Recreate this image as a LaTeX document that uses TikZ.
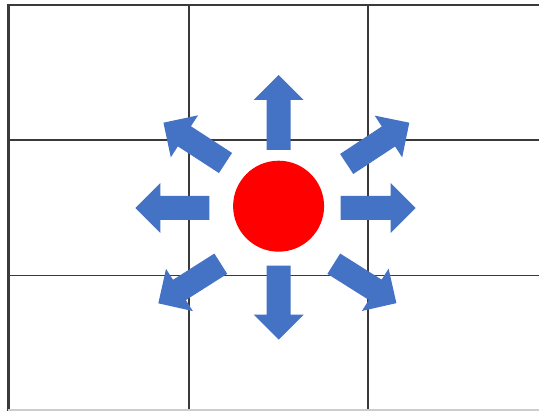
\documentclass[tikz,border=0pt]{standalone}
\usetikzlibrary{calc}
\definecolor{arrowblue}{HTML}{4472C4}
\definecolor{gridgray}{HTML}{3A3A3A}
\newcommand{\blockarrow}[4]{%
  \fill[arrowblue, shift={(#1,#2)}, rotate=#3]
    (0,-12) -- (#4-25,-12) -- (#4-25,-25) -- (#4,0) -- (#4-25,25) -- (#4-25,12) -- (0,12) -- cycle;}
\begin{document}
\begin{tikzpicture}[x=0.02cm,y=-0.02cm,
  gridline/.style={draw=gridgray, line width=0.9pt},
  outerline/.style={draw=gridgray, line width=1.6pt}]
\useasboundingbox (0,0) rectangle (539,411);
\fill[white] (0,0) rectangle (539,411);
% grid
\draw[outerline] (8.5,411) -- (8.5,5) -- (539,5);
\draw[gridline] (189,5) -- (189,411);
\draw[gridline] (368,5) -- (368,411);
\draw[gridline] (8.5,140) -- (539,140);
\draw[gridline] (8.5,275.5) -- (539,275.5);
\draw[draw=gray!40, line width=0.8pt] (8.5,410) -- (539,410);
% arrows
\blockarrow{278.7}{150}{90}{75}
\blockarrow{278.7}{265.7}{-90}{74}
\blockarrow{340.7}{208}{0}{75}
\blockarrow{209.3}{208}{180}{74}
\blockarrow{346.7}{164}{33.4}{75}
\blockarrow{225.5}{163}{147}{74}
\blockarrow{220.8}{263.7}{212.4}{74}
\blockarrow{333.8}{263.7}{-32.2}{74}
% centre
\node (centre) [circle, fill=red, minimum size=1.82cm, inner sep=0pt] at (278.6,206.2) {};
\end{tikzpicture}
\end{document}
